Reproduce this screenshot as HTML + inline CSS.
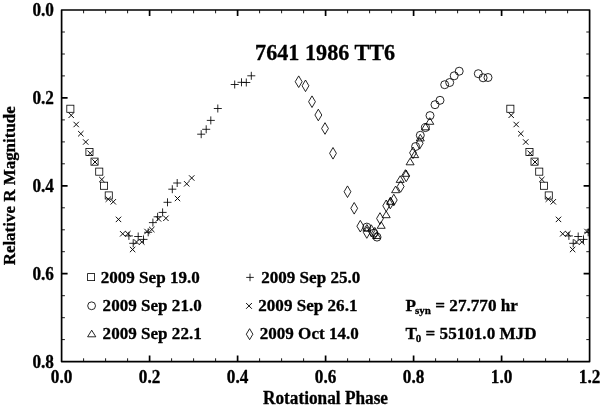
<!DOCTYPE html>
<html><head><meta charset="utf-8"><title>7641 1986 TT6</title>
<style>
html,body{margin:0;padding:0;background:#fff;}
svg{display:block;font-family:"Liberation Serif",serif;font-weight:bold;fill:#000;}
text{stroke:#000;stroke-width:0.3px;stroke-linejoin:round;}
</style></head><body>
<svg width="600" height="408" viewBox="0 0 600 408">
<rect x="0" y="0" width="600" height="408" fill="#fff"/>
<defs><clipPath id="c"><rect x="61.6" y="10.0" width="528.0" height="351.6"/></clipPath></defs>
<g clip-path="url(#c)" fill="none" stroke="#000" stroke-width="0.85">
<rect stroke-width="0.8" x="66.8" y="105.2" width="7.1" height="7.1"/>
<rect stroke-width="0.8" x="85.9" y="148.4" width="7.1" height="7.1"/>
<rect stroke-width="0.8" x="91.0" y="158.1" width="7.1" height="7.1"/>
<rect stroke-width="0.8" x="95.7" y="168.1" width="7.1" height="7.1"/>
<rect stroke-width="0.8" x="100.5" y="182.2" width="7.1" height="7.1"/>
<rect stroke-width="0.8" x="105.2" y="191.9" width="7.1" height="7.1"/>
<rect stroke-width="0.8" x="506.8" y="105.2" width="7.1" height="7.1"/>
<rect stroke-width="0.8" x="525.9" y="148.4" width="7.1" height="7.1"/>
<rect stroke-width="0.8" x="531.0" y="158.1" width="7.1" height="7.1"/>
<rect stroke-width="0.8" x="535.7" y="168.1" width="7.1" height="7.1"/>
<rect stroke-width="0.8" x="540.5" y="182.2" width="7.1" height="7.1"/>
<rect stroke-width="0.8" x="545.2" y="191.9" width="7.1" height="7.1"/>
<path stroke-width="0.95" d="M68.5 112.6L73.9 118.0M68.5 118.0L73.9 112.6"/>
<path stroke-width="0.95" d="M73.5 121.8L78.9 127.2M73.5 127.2L78.9 121.8"/>
<path stroke-width="0.95" d="M78.1 131.0L83.5 136.4M78.1 136.4L83.5 131.0"/>
<path stroke-width="0.95" d="M83.0 139.3L88.4 144.7M83.0 144.7L88.4 139.3"/>
<path stroke-width="0.95" d="M87.5 150.6L92.9 156.0M87.5 156.0L92.9 150.6"/>
<path stroke-width="0.95" d="M92.3 159.3L97.7 164.7M92.3 164.7L97.7 159.3"/>
<path stroke-width="0.95" d="M99.1 176.8L104.5 182.2M99.1 182.2L104.5 176.8"/>
<path stroke-width="0.95" d="M105.6 196.5L111.0 201.9M105.6 201.9L111.0 196.5"/>
<path stroke-width="0.95" d="M110.6 199.1L116.0 204.5M110.6 204.5L116.0 199.1"/>
<path stroke-width="0.95" d="M115.8 216.7L121.2 222.1M115.8 222.1L121.2 216.7"/>
<path stroke-width="0.95" d="M120.0 231.1L125.4 236.5M120.0 236.5L125.4 231.1"/>
<path stroke-width="0.95" d="M125.2 231.0L130.6 236.4M125.2 236.4L130.6 231.0"/>
<path stroke-width="0.95" d="M129.9 246.8L135.3 252.2M129.9 252.2L135.3 246.8"/>
<path stroke-width="0.95" d="M133.8 239.3L139.2 244.7M133.8 244.7L139.2 239.3"/>
<path stroke-width="0.95" d="M139.1 239.3L144.5 244.7M139.1 244.7L144.5 239.3"/>
<path stroke-width="0.95" d="M144.3 228.8L149.7 234.2M144.3 234.2L149.7 228.8"/>
<path stroke-width="0.95" d="M149.1 226.8L154.5 232.2M149.1 232.2L154.5 226.8"/>
<path stroke-width="0.95" d="M155.8 216.2L161.2 221.6M155.8 221.6L161.2 216.2"/>
<path stroke-width="0.95" d="M163.2 215.6L168.6 221.0M163.2 221.0L168.6 215.6"/>
<path stroke-width="0.95" d="M174.8 195.8L180.2 201.2M174.8 201.2L180.2 195.8"/>
<path stroke-width="0.95" d="M184.0 181.1L189.4 186.5M184.0 186.5L189.4 181.1"/>
<path stroke-width="0.95" d="M189.0 175.3L194.4 180.7M189.0 180.7L194.4 175.3"/>
<path stroke-width="0.95" d="M508.5 112.6L513.9 118.0M508.5 118.0L513.9 112.6"/>
<path stroke-width="0.95" d="M513.5 121.8L518.9 127.2M513.5 127.2L518.9 121.8"/>
<path stroke-width="0.95" d="M518.1 131.0L523.5 136.4M518.1 136.4L523.5 131.0"/>
<path stroke-width="0.95" d="M523.0 139.3L528.4 144.7M523.0 144.7L528.4 139.3"/>
<path stroke-width="0.95" d="M527.5 150.6L532.9 156.0M527.5 156.0L532.9 150.6"/>
<path stroke-width="0.95" d="M532.3 159.3L537.7 164.7M532.3 164.7L537.7 159.3"/>
<path stroke-width="0.95" d="M539.1 176.8L544.5 182.2M539.1 182.2L544.5 176.8"/>
<path stroke-width="0.95" d="M545.6 196.5L551.0 201.9M545.6 201.9L551.0 196.5"/>
<path stroke-width="0.95" d="M550.6 199.1L556.0 204.5M550.6 204.5L556.0 199.1"/>
<path stroke-width="0.95" d="M555.8 216.7L561.2 222.1M555.8 222.1L561.2 216.7"/>
<path stroke-width="0.95" d="M560.0 231.1L565.4 236.5M560.0 236.5L565.4 231.1"/>
<path stroke-width="0.95" d="M565.2 231.0L570.6 236.4M565.2 236.4L570.6 231.0"/>
<path stroke-width="0.95" d="M569.9 246.8L575.3 252.2M569.9 252.2L575.3 246.8"/>
<path stroke-width="0.95" d="M573.8 239.3L579.2 244.7M573.8 244.7L579.2 239.3"/>
<path stroke-width="0.95" d="M579.1 239.3L584.5 244.7M579.1 244.7L584.5 239.3"/>
<path stroke-width="0.95" d="M584.3 228.8L589.7 234.2M584.3 234.2L589.7 228.8"/>
<path stroke-width="0.95" d="M589.1 226.8L594.5 232.2M589.1 232.2L594.5 226.8"/>
<path d="M124.9 235.9H132.9M128.9 231.9V239.9"/>
<path d="M134.2 236.5H142.2M138.2 232.5V240.5"/>
<path d="M129.2 243.3H137.2M133.2 239.3V247.3"/>
<path d="M139.5 239.4H147.5M143.5 235.4V243.4"/>
<path d="M144.2 232.3H152.2M148.2 228.3V236.3"/>
<path d="M148.9 222.6H156.9M152.9 218.6V226.6"/>
<path d="M153.6 216.8H161.6M157.6 212.8V220.8"/>
<path d="M158.6 212.4H166.6M162.6 208.4V216.4"/>
<path d="M163.5 202.3H171.5M167.5 198.3V206.3"/>
<path d="M168.3 189.2H176.3M172.3 185.2V193.2"/>
<path d="M173.2 183.0H181.2M177.2 179.0V187.0"/>
<path d="M197.2 134.2H205.2M201.2 130.2V138.2"/>
<path d="M202.2 129.3H210.2M206.2 125.3V133.3"/>
<path d="M206.8 120.4H214.8M210.8 116.4V124.4"/>
<path d="M213.8 108.5H221.8M217.8 104.5V112.5"/>
<path d="M230.7 84.5H238.7M234.7 80.5V88.5"/>
<path d="M237.5 82.3H245.5M241.5 78.3V86.3"/>
<path d="M242.3 82.5H250.3M246.3 78.5V86.5"/>
<path d="M247.3 75.8H255.3M251.3 71.8V79.8"/>
<path d="M564.9 235.9H572.9M568.9 231.9V239.9"/>
<path d="M574.2 236.5H582.2M578.2 232.5V240.5"/>
<path d="M569.2 243.3H577.2M573.2 239.3V247.3"/>
<path d="M579.5 239.4H587.5M583.5 235.4V243.4"/>
<path d="M584.2 232.3H592.2M588.2 228.3V236.3"/>
<path d="M298.7 75.9L302.1 81.7L298.7 87.5L295.2 81.7Z"/>
<path d="M305.5 80.0L308.9 85.8L305.5 91.6L302.1 85.8Z"/>
<path d="M312.0 95.9L315.4 101.7L312.0 107.5L308.6 101.7Z"/>
<path d="M318.3 109.2L321.8 115.0L318.3 120.8L314.9 115.0Z"/>
<path d="M325.0 122.7L328.4 128.5L325.0 134.3L321.6 128.5Z"/>
<path d="M333.0 147.5L336.4 153.3L333.0 159.1L329.6 153.3Z"/>
<path d="M347.5 185.9L350.9 191.7L347.5 197.5L344.1 191.7Z"/>
<path d="M354.2 202.5L357.6 208.3L354.2 214.1L350.8 208.3Z"/>
<path d="M360.3 220.4L363.8 226.2L360.3 232.0L356.9 226.2Z"/>
<path d="M366.8 226.7L370.2 232.5L366.8 238.3L363.4 232.5Z"/>
<path d="M371.3 224.8L374.8 230.6L371.3 236.4L367.9 230.6Z"/>
<path d="M374.8 227.4L378.2 233.2L374.8 239.0L371.4 233.2Z"/>
<path d="M380.0 212.7L383.4 218.5L380.0 224.3L376.6 218.5Z"/>
<path d="M386.2 200.0L389.6 205.8L386.2 211.6L382.8 205.8Z"/>
<path d="M390.3 197.2L393.8 203.0L390.3 208.8L386.9 203.0Z"/>
<path d="M393.8 194.2L397.2 200.0L393.8 205.8L390.4 200.0Z"/>
<path d="M400.6 180.7L404.1 186.5L400.6 192.3L397.2 186.5Z"/>
<path d="M406.2 170.1L409.6 175.9L406.2 181.7L402.8 175.9Z"/>
<path d="M413.0 147.0L416.4 152.8L413.0 158.6L409.6 152.8Z"/>
<path d="M419.7 137.5L423.1 143.3L419.7 149.1L416.2 143.3Z"/>
<circle cx="366.8" cy="227.1" r="4.0"/>
<circle cx="373.8" cy="233.2" r="4.0"/>
<circle cx="377.0" cy="237.1" r="4.0"/>
<circle cx="415.6" cy="146.5" r="4.0"/>
<circle cx="420.3" cy="135.3" r="4.0"/>
<circle cx="425.4" cy="127.6" r="4.0"/>
<circle cx="430.0" cy="115.6" r="4.0"/>
<circle cx="435.0" cy="104.7" r="4.0"/>
<circle cx="440.0" cy="100.3" r="4.0"/>
<circle cx="444.7" cy="84.7" r="4.0"/>
<circle cx="449.7" cy="82.5" r="4.0"/>
<circle cx="454.2" cy="75.8" r="4.0"/>
<circle cx="459.2" cy="71.2" r="4.0"/>
<circle cx="478.3" cy="73.7" r="4.0"/>
<circle cx="483.1" cy="77.8" r="4.0"/>
<circle cx="488.0" cy="77.5" r="4.0"/>
<path d="M376.6 231.9L380.6 238.5L372.6 238.5Z"/>
<path d="M366.9 224.5L370.9 231.1L362.9 231.1Z"/>
<path d="M381.2 221.7L385.2 228.3L377.2 228.3Z"/>
<path d="M386.2 211.1L390.2 217.7L382.2 217.7Z"/>
<path d="M390.6 197.7L394.6 204.3L386.6 204.3Z"/>
<path d="M395.6 186.1L399.6 192.7L391.6 192.7Z"/>
<path d="M400.2 175.8L404.2 182.4L396.2 182.4Z"/>
<path d="M405.4 169.7L409.4 176.3L401.4 176.3Z"/>
<path d="M410.1 158.2L414.1 164.8L406.1 164.8Z"/>
<path d="M414.7 151.0L418.7 157.6L410.7 157.6Z"/>
<path d="M420.3 134.3L424.3 140.9L416.3 140.9Z"/>
<path d="M425.5 123.2L429.5 129.8L421.5 129.8Z"/>
<path d="M429.8 117.7L433.8 124.3L425.8 124.3Z"/>
</g>
<g fill="none" stroke="#000">
<path d="M83.6 361.6V358.3M83.6 10.0V13.3" stroke-width="0.9"/>
<path d="M105.6 361.6V358.3M105.6 10.0V13.3" stroke-width="0.9"/>
<path d="M127.6 361.6V358.3M127.6 10.0V13.3" stroke-width="0.9"/>
<path d="M149.6 361.6V355.6M149.6 10.0V16.0" stroke-width="1.7"/>
<path d="M171.6 361.6V358.3M171.6 10.0V13.3" stroke-width="0.9"/>
<path d="M193.6 361.6V358.3M193.6 10.0V13.3" stroke-width="0.9"/>
<path d="M215.6 361.6V358.3M215.6 10.0V13.3" stroke-width="0.9"/>
<path d="M237.6 361.6V355.6M237.6 10.0V16.0" stroke-width="1.7"/>
<path d="M259.6 361.6V358.3M259.6 10.0V13.3" stroke-width="0.9"/>
<path d="M281.6 361.6V358.3M281.6 10.0V13.3" stroke-width="0.9"/>
<path d="M303.6 361.6V358.3M303.6 10.0V13.3" stroke-width="0.9"/>
<path d="M325.6 361.6V355.6M325.6 10.0V16.0" stroke-width="1.7"/>
<path d="M347.6 361.6V358.3M347.6 10.0V13.3" stroke-width="0.9"/>
<path d="M369.6 361.6V358.3M369.6 10.0V13.3" stroke-width="0.9"/>
<path d="M391.6 361.6V358.3M391.6 10.0V13.3" stroke-width="0.9"/>
<path d="M413.6 361.6V355.6M413.6 10.0V16.0" stroke-width="1.7"/>
<path d="M435.6 361.6V358.3M435.6 10.0V13.3" stroke-width="0.9"/>
<path d="M457.6 361.6V358.3M457.6 10.0V13.3" stroke-width="0.9"/>
<path d="M479.6 361.6V358.3M479.6 10.0V13.3" stroke-width="0.9"/>
<path d="M501.6 361.6V355.6M501.6 10.0V16.0" stroke-width="1.7"/>
<path d="M523.6 361.6V358.3M523.6 10.0V13.3" stroke-width="0.9"/>
<path d="M545.6 361.6V358.3M545.6 10.0V13.3" stroke-width="0.9"/>
<path d="M567.6 361.6V358.3M567.6 10.0V13.3" stroke-width="0.9"/>
<path d="M61.6 32.0H64.9M589.6 32.0H586.3" stroke-width="0.9"/>
<path d="M61.6 54.0H64.9M589.6 54.0H586.3" stroke-width="0.9"/>
<path d="M61.6 75.9H64.9M589.6 75.9H586.3" stroke-width="0.9"/>
<path d="M61.6 97.9H67.6M589.6 97.9H583.6" stroke-width="1.7"/>
<path d="M61.6 119.9H64.9M589.6 119.9H586.3" stroke-width="0.9"/>
<path d="M61.6 141.9H64.9M589.6 141.9H586.3" stroke-width="0.9"/>
<path d="M61.6 163.8H64.9M589.6 163.8H586.3" stroke-width="0.9"/>
<path d="M61.6 185.8H67.6M589.6 185.8H583.6" stroke-width="1.7"/>
<path d="M61.6 207.8H64.9M589.6 207.8H586.3" stroke-width="0.9"/>
<path d="M61.6 229.8H64.9M589.6 229.8H586.3" stroke-width="0.9"/>
<path d="M61.6 251.7H64.9M589.6 251.7H586.3" stroke-width="0.9"/>
<path d="M61.6 273.7H67.6M589.6 273.7H583.6" stroke-width="1.7"/>
<path d="M61.6 295.7H64.9M589.6 295.7H586.3" stroke-width="0.9"/>
<path d="M61.6 317.7H64.9M589.6 317.7H586.3" stroke-width="0.9"/>
<path d="M61.6 339.6H64.9M589.6 339.6H586.3" stroke-width="0.9"/>
<rect x="61.6" y="10.0" width="528.0" height="351.6" stroke-width="1.7" stroke-linejoin="round"/>
</g>
<g font-size="17px">
<text transform="translate(61.6,382.6) scale(1,1.035)" font-size="17.25px" text-anchor="middle">0.0</text>
<text transform="translate(149.6,382.6) scale(1,1.035)" font-size="17.25px" text-anchor="middle">0.2</text>
<text transform="translate(237.6,382.6) scale(1,1.035)" font-size="17.25px" text-anchor="middle">0.4</text>
<text transform="translate(325.6,382.6) scale(1,1.035)" font-size="17.25px" text-anchor="middle">0.6</text>
<text transform="translate(413.6,382.6) scale(1,1.035)" font-size="17.25px" text-anchor="middle">0.8</text>
<text transform="translate(501.6,382.6) scale(1,1.035)" font-size="17.25px" text-anchor="middle">1.0</text>
<text transform="translate(589.6,382.6) scale(1,1.035)" font-size="17.25px" text-anchor="middle">1.2</text>
<text transform="translate(54,16.4) scale(1,1.035)" font-size="17.25px" text-anchor="end">0.0</text>
<text transform="translate(54,104.3) scale(1,1.035)" font-size="17.25px" text-anchor="end">0.2</text>
<text transform="translate(54,192.2) scale(1,1.035)" font-size="17.25px" text-anchor="end">0.4</text>
<text transform="translate(54,280.1) scale(1,1.035)" font-size="17.25px" text-anchor="end">0.6</text>
<text transform="translate(54,368.0) scale(1,1.035)" font-size="17.25px" text-anchor="end">0.8</text>
</g>
<text transform="translate(325.1,59.7) scale(1,1.035)" font-size="22.20px" text-anchor="middle">7641 1986 TT6</text>
<text transform="translate(325.5,403.7) scale(1,1.035)" font-size="17.25px" text-anchor="middle">Rotational Phase</text>
<text transform="translate(14.6,185.8) rotate(-90) scale(1,1.035)" font-size="16.97px" text-anchor="middle">Relative R Magnitude</text>
<g fill="none" stroke="#000" stroke-width="0.85">
<rect stroke-width="0.8" x="87.6" y="273.6" width="7.0" height="7.0"/>
<circle cx="91.6" cy="305.8" r="3.9"/>
<path d="M91.7 330.2L95.8 336.8L87.6 336.8Z"/>
<path d="M246.2 277.4H253.8M250.0 273.6V281.2"/>
<path stroke-width="0.95" d="M246.1 303.0L251.9 308.8M246.1 308.8L251.9 303.0"/>
<path d="M249.6 328.7L252.9 334.2L249.6 339.7L246.3 334.2Z"/>
</g>
<g font-size="17px">
<text transform="translate(100.7,282.5) scale(1,1.035)" font-size="17.08px" text-anchor="start">2009 Sep 19.0</text>
<text transform="translate(102.6,311) scale(1,1.035)" font-size="17.08px" text-anchor="start">2009 Sep 21.0</text>
<text transform="translate(102.6,339.4) scale(1,1.035)" font-size="17.08px" text-anchor="start">2009 Sep 22.1</text>
<text transform="translate(261.2,282.7) scale(1,1.035)" font-size="17.08px" text-anchor="start">2009 Sep 25.0</text>
<text transform="translate(258.3,311) scale(1,1.035)" font-size="17.08px" text-anchor="start">2009 Sep 26.1</text>
<text transform="translate(259.7,339.3) scale(1,1.035)" font-size="17.08px" text-anchor="start">2009 Oct 14.0</text>
<text transform="translate(405.6,310.5) scale(1,1.035)" font-size="17.17px" text-anchor="start">P<tspan font-size="11px" dx="-1" dy="3.5">syn</tspan><tspan dy="-3.5"> = 27.770 hr</tspan></text>
<text transform="translate(405.6,338.8) scale(1,1.035)" font-size="17.12px" text-anchor="start">T<tspan font-size="11px" dx="-1.2" dy="3.5">0</tspan><tspan dy="-3.5"> = 55101.0 MJD</tspan></text>
</g>
</svg>
</body></html>
